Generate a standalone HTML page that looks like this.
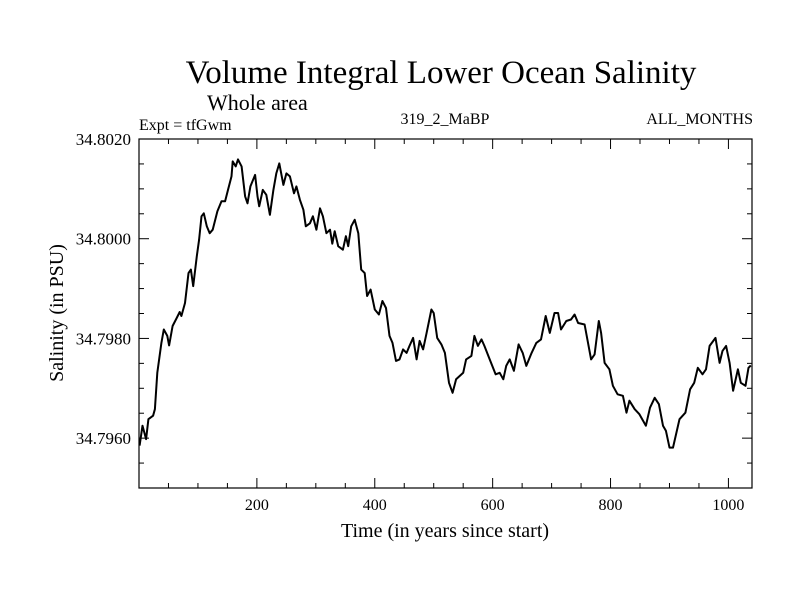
<!DOCTYPE html>
<html><head><meta charset="utf-8"><style>
html,body{margin:0;padding:0;background:#fff;}
svg{display:block;font-family:"Liberation Serif",serif;}
</style></head><body>
<svg id="chart" width="800" height="600" viewBox="0 0 800 600">
<text x="441" y="83" font-size="33" text-anchor="middle">Volume Integral Lower Ocean Salinity</text>
<text x="207" y="110" font-size="22">Whole area</text>
<text x="139" y="130" font-size="16">Expt = tfGwm</text>
<text x="445" y="124" font-size="16" text-anchor="middle">319_2_MaBP</text>
<text x="753" y="124" font-size="16" text-anchor="end">ALL_MONTHS</text>
<g id="axes"></g>
<path id="series" fill="none" stroke="#000" stroke-width="2" stroke-linejoin="round"></path>
<text x="445" y="537" font-size="20" text-anchor="middle">Time (in years since start)</text>
<text transform="translate(63,313) rotate(-90)" font-size="20" text-anchor="middle">Salinity (in PSU)</text>
</svg>
<script>
const years = [1,6,12,16,24,27,31,38,42,48,51,57,64,69,72,78,84,88,92,98,102,106,110,115,120,125,133,140,146,151,157,159,164,168,174,180,184,189,197,201,204,210,216,222,228,233,238,245,250,256,263,267,273,279,283,290,295,301,307,312,318,324,328,332,338,346,351,355,360,366,372,377,383,387,393,400,407,413,419,425,430,436,442,448,454,459,465,471,476,482,488,496,500,506,513,519,526,532,538,550,555,564,569,575,581,586,595,605,612,618,623,629,636,644,651,657,666,674,682,690,697,705,711,716,725,733,739,745,756,767,773,780,784,790,798,804,812,821,827,832,841,849,860,867,875,882,889,894,900,906,917,927,935,942,948,956,962,968,978,985,990,996,1002,1008,1016,1021,1029,1034,1038];
const salinity = [34.79585,34.79625,34.79598,34.79638,34.79645,34.79658,34.79731,34.79791,34.79818,34.79805,34.79786,34.79825,34.79841,34.79853,34.79845,34.79871,34.79931,34.79938,34.79905,34.79965,34.79998,34.80045,34.80051,34.80025,34.80011,34.80018,34.80055,34.80075,34.80075,34.80098,34.80125,34.80155,34.80145,34.80159,34.80145,34.80085,34.80071,34.80105,34.80128,34.80085,34.80065,34.80098,34.80088,34.80048,34.80098,34.80131,34.80151,34.80108,34.80131,34.80125,34.80091,34.80105,34.80078,34.80058,34.80025,34.80031,34.80045,34.80018,34.80061,34.80045,34.80011,34.80018,34.79990,34.80015,34.79985,34.79978,34.80005,34.79985,34.80025,34.80038,34.80011,34.79938,34.79931,34.79885,34.79898,34.79858,34.79848,34.79875,34.79861,34.79805,34.79791,34.79755,34.79758,34.79778,34.79771,34.79785,34.79801,34.79758,34.79795,34.79778,34.79811,34.79858,34.79851,34.79801,34.79788,34.79771,34.79711,34.79691,34.79718,34.79731,34.79758,34.79765,34.79805,34.79785,34.79798,34.79785,34.79758,34.79728,34.79731,34.79718,34.79745,34.79758,34.79735,34.79788,34.79771,34.79745,34.79771,34.79791,34.79798,34.79845,34.79811,34.79851,34.79851,34.79818,34.79835,34.79838,34.79848,34.79831,34.79828,34.79758,34.79768,34.79835,34.79811,34.79751,34.79738,34.79705,34.79688,34.79685,34.79651,34.79675,34.79658,34.79648,34.79625,34.79661,34.79681,34.79668,34.79625,34.79615,34.79581,34.79581,34.79638,34.79651,34.79698,34.79711,34.79741,34.79728,34.79738,34.79785,34.79801,34.79751,34.79775,34.79785,34.79751,34.79695,34.79738,34.79711,34.79705,34.79741,34.79746];
const xTicks = [200,400,600,800,1000];
const yTicks = [34.7960,34.7980,34.8000,34.8020];
const yTickLabels = ["34.7960","34.7980","34.8000","34.8020"];

const L=139,R=752,T=139,B=488;
const X0=0,X1=1040,Y0=34.7950,Y1=34.8020;
const sx=v=>L+(v-X0)/(X1-X0)*(R-L);
const sy=v=>B-(v-Y0)/(Y1-Y0)*(B-T);
const NS='http://www.w3.org/2000/svg';
const ax=document.getElementById('axes');
function mk(tag,attrs){const e=document.createElementNS(NS,tag);for(const k in attrs)e.setAttribute(k,attrs[k]);return e;}
const frame=mk('rect',{x:L,y:T,width:R-L,height:B-T,fill:'none',stroke:'#000','stroke-width':1.2});


ax.appendChild(frame);
for(let v=50;v<X1;v+=50){
  const major=v%200===0, len=major?10:5, x=sx(v);
  const t1=mk('line',{x1:x,x2:x,y1:B,y2:B-len,stroke:'#000','stroke-width':1});
  
  
  ax.appendChild(t1);
  const t2=mk('line',{x1:x,x2:x,y1:T,y2:T+len,stroke:'#000','stroke-width':1});
  
  
  ax.appendChild(t2);
}
xTicks.forEach(v=>{
  const t=mk('text',{x:sx(v),y:B+22,'font-size':16,'text-anchor':'middle'});
  t.textContent=String(v);
  
  
  ax.appendChild(t);
});
for(let i=1;i<14;i++){
  const v=Y0+i*0.0005, y=sy(v), major=(i%4===2), len=major?10:5;
  const t1=mk('line',{x1:L,x2:L+len,y1:y,y2:y,stroke:'#000','stroke-width':1});
  
  
  ax.appendChild(t1);
  const t2=mk('line',{x1:R,x2:R-len,y1:y,y2:y,stroke:'#000','stroke-width':1});
  
  
  ax.appendChild(t2);
}
yTicks.forEach((v,i)=>{
  const t=mk('text',{x:L-8,y:sy(v)+6,'font-size':17,'text-anchor':'end'});
  t.textContent=yTickLabels[i];
  
  
  ax.appendChild(t);
});
document.getElementById('series').setAttribute('d',years.map((y,i)=>(i?'L':'M')+sx(y).toFixed(1)+' '+sy(salinity[i]).toFixed(1)).join(' '));
</script>
</body></html>
